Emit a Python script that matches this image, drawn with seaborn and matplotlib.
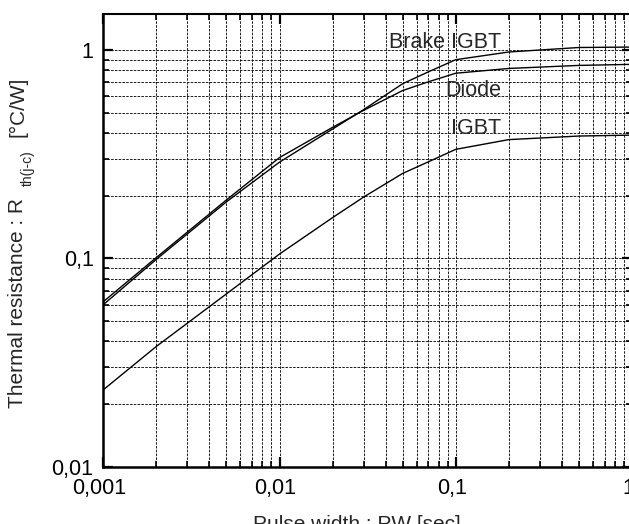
import numpy as np
import pandas as pd
import matplotlib
matplotlib.use("Agg")
import matplotlib.pyplot as plt
import matplotlib.ticker as mticker
from matplotlib.transforms import ScaledTranslation
import seaborn as sns

# ---- data ----
pulse_width = [0.001, 0.002, 0.005, 0.01, 0.02, 0.03, 0.05, 0.07, 0.1, 0.2, 0.5, 1.0]
brake_igbt  = [0.060, 0.099, 0.187, 0.290, 0.418, 0.518, 0.690, 0.787, 0.900, 0.980, 1.030, 1.035]
diode       = [0.062, 0.101, 0.191, 0.305, 0.426, 0.514, 0.640, 0.705, 0.775, 0.817, 0.845, 0.855]
igbt        = [0.0234, 0.0378, 0.0676, 0.105, 0.157, 0.197, 0.256, 0.291, 0.334, 0.372, 0.387, 0.391]
series_names = ["Brake IGBT", "Diode", "IGBT"]
x_ticks = [0.001, 0.01, 0.1, 1]
x_tick_labels = ["0,001", "0,01", "0,1", "1"]
y_ticks = [0.01, 0.1, 1]
y_tick_labels = ["0,01", "0,1", "1"]

df = pd.DataFrame({
    "pw": pulse_width * 3,
    "rth": brake_igbt + diode + igbt,
    "series": [series_names[0]] * len(pulse_width)
              + [series_names[1]] * len(pulse_width)
              + [series_names[2]] * len(pulse_width),
})

sns.set_style("white")
plt.rcParams["font.family"] = ["Liberation Sans", "DejaVu Sans"]

W, H = 629, 524
fig = plt.figure(figsize=(W / 100, H / 100), dpi=100)
ax_l, ax_r, ax_t, ax_b = 103.3, 631.9, 13.5, 466.7
ax = fig.add_axes([ax_l / W, 1 - ax_b / H, (ax_r - ax_l) / W, (ax_b - ax_t) / H])

sns.lineplot(data=df, x="pw", y="rth", hue="series",
             palette=["black"] * 3, linewidth=1.0, legend=False, ax=ax,
             sort=True, estimator=None)

ax.set_xscale("log")
ax.set_yscale("log")
ax.set_xlim(0.001, 1)
ax.set_ylim(0.01, 1.5)

ax.xaxis.set_major_locator(mticker.FixedLocator(x_ticks))
ax.xaxis.set_major_formatter(mticker.FixedFormatter(x_tick_labels))
ax.yaxis.set_major_locator(mticker.FixedLocator(y_ticks))
ax.yaxis.set_major_formatter(mticker.FixedFormatter(y_tick_labels))
ax.xaxis.set_minor_locator(mticker.LogLocator(base=10, subs=np.arange(2, 10), numticks=20))
ax.yaxis.set_minor_locator(mticker.LogLocator(base=10, subs=np.arange(2, 10), numticks=20))
ax.xaxis.set_minor_formatter(mticker.NullFormatter())
ax.yaxis.set_minor_formatter(mticker.NullFormatter())

ax.grid(True, which="both", color="#1a1a1a", linestyle=(0, (2.6, 1.3)), linewidth=0.7)

ax.tick_params(which="both", direction="in", top=True, right=True,
               bottom=True, left=True, colors="black")
ax.tick_params(which="major", length=7, width=1.6, labelsize=15.5, pad=7)
ax.tick_params(which="minor", length=4.5, width=1.2)
ax.tick_params(axis="x", which="major", pad=8)

for side in ["left", "bottom"]:
    ax.spines[side].set_linewidth(1.8)
ax.spines["top"].set_linewidth(1.5)
ax.spines["right"].set_linewidth(1.5)
for s in ax.spines.values():
    s.set_color("black")

ax.set_xlabel("")
ax.set_ylabel("")

# x tick labels sit slightly left of their ticks in the reference
shift = ScaledTranslation(-4 / 100, 0, fig.dpi_scale_trans)
for lab in ax.get_xticklabels():
    lab.set_transform(lab.get_transform() + shift)

# series labels (right-aligned)
ax.text(0.181, 1.02, "Brake IGBT", ha="right", va="baseline", fontsize=15.5)
ax.text(0.181, 0.601, "Diode", ha="right", va="baseline", fontsize=15.5)
ax.text(0.181, 0.395, "IGBT", ha="right", va="baseline", fontsize=15.5)

# axis titles
fig.text(357 / W, 1 - 515 / H, "Pulse width : PW [sec]", ha="center", va="top", fontsize=15)
fig.text(17.5 / W, 1 - 408 / H, "Thermal resistance : R", rotation=90,
         ha="center", va="bottom", fontsize=15)
fig.text(28 / W, 1 - 186 / H, "th(j-c)", rotation=90,
         ha="center", va="bottom", fontsize=10)
fig.text(17.5 / W, 1 - 137 / H, "[°C/W]", rotation=90,
         ha="center", va="bottom", fontsize=15)

fig.savefig("out.png", dpi=100)
